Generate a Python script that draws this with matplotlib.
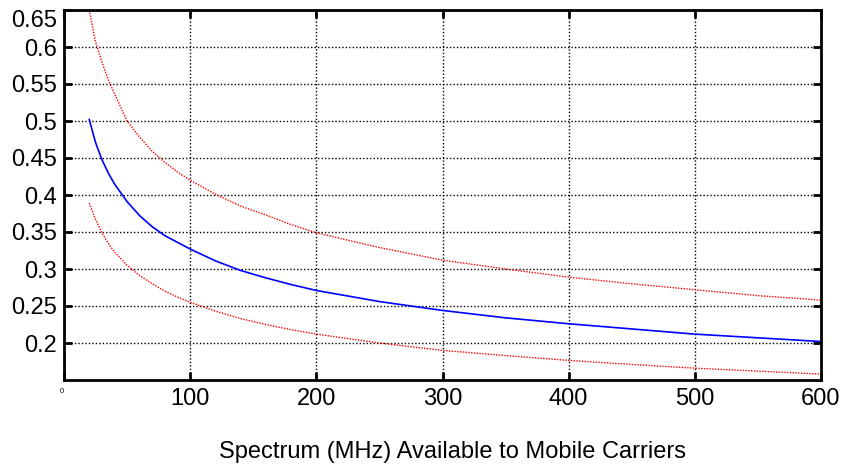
import matplotlib
matplotlib.use("Agg")
import matplotlib.pyplot as plt

plt.rcParams['font.family'] = ['Liberation Sans', 'DejaVu Sans']

# Spectrum (MHz)
x_vals = [20, 25, 30, 35, 40, 50, 60, 70, 80, 90, 100, 120, 140, 160, 180, 200,
          250, 300, 350, 400, 450, 500, 550, 600]
y_blue = [0.502, 0.471, 0.448, 0.430, 0.415, 0.391, 0.372, 0.357, 0.345, 0.336, 0.327,
          0.311, 0.298, 0.288, 0.279, 0.271, 0.256, 0.244, 0.234, 0.226, 0.219, 0.212, 0.207, 0.202]
y_upper = [0.650, 0.607, 0.580, 0.556, 0.537, 0.500, 0.478, 0.459, 0.444, 0.431, 0.420,
           0.401, 0.385, 0.373, 0.360, 0.349, 0.329, 0.312, 0.300, 0.289, 0.280, 0.272, 0.264, 0.258]
y_lower = [0.389, 0.367, 0.349, 0.335, 0.323, 0.305, 0.291, 0.280, 0.270, 0.262, 0.255,
           0.243, 0.233, 0.225, 0.218, 0.212, 0.200, 0.190, 0.183, 0.1765, 0.171, 0.166, 0.162, 0.158]

x_ticks = [0, 100, 200, 300, 400, 500, 600]
y_ticks = [0.2, 0.25, 0.3, 0.35, 0.4, 0.45, 0.5, 0.55, 0.6, 0.65]
y_tick_labels = ['0.2', '0.25', '0.3', '0.35', '0.4', '0.45', '0.5', '0.55', '0.6', '0.65']
x_label = 'Spectrum (MHz) Available to Mobile Carriers'

fig = plt.figure(figsize=(8.5, 4.68), dpi=100)
ax = fig.add_axes([64/850, 1-380/468, (821-64)/850, (380-10)/468])

ax.plot(x_vals, y_upper, color='red', linestyle=(0, (1, 1)), linewidth=1.0)
ax.plot(x_vals, y_lower, color='red', linestyle=(0, (1, 1)), linewidth=1.0)
ax.plot(x_vals, y_blue, color='blue', linestyle='-', linewidth=1.2)

ax.set_xlim(0, 600)
ax.set_ylim(0.15, 0.65)
ax.set_xticks(x_ticks)
ax.set_yticks(y_ticks)
ax.set_yticklabels(y_tick_labels)
ax.set_xticklabels([str(t) for t in x_ticks])
for i, lab in enumerate(ax.get_xticklabels()):
    if i == 0:
        lab.set_fontsize(5.5)
        lab.set_horizontalalignment('right')
    else:
        lab.set_fontsize(17)
ylabs = ax.get_yticklabels()
for lab in ylabs:
    lab.set_fontsize(17)
ylabs[-1].set_verticalalignment('top')

ax.grid(True, color='black', linestyle=(0, (1, 1.5)), linewidth=1.0)
ax.tick_params(direction='in', length=6, width=2, top=True, right=True)
ax.tick_params(axis='x', pad=6)
ax.tick_params(axis='y', pad=5)
for s in ax.spines.values():
    s.set_linewidth(2)
    s.set_color('black')

ax.set_xlabel(x_label, fontsize=17)
ax.xaxis.set_label_coords((452 - 64) / (821 - 64), -(452 - 380) / 370)
ax.xaxis.label.set_verticalalignment('center')

fig.savefig('out.png', dpi=100)
